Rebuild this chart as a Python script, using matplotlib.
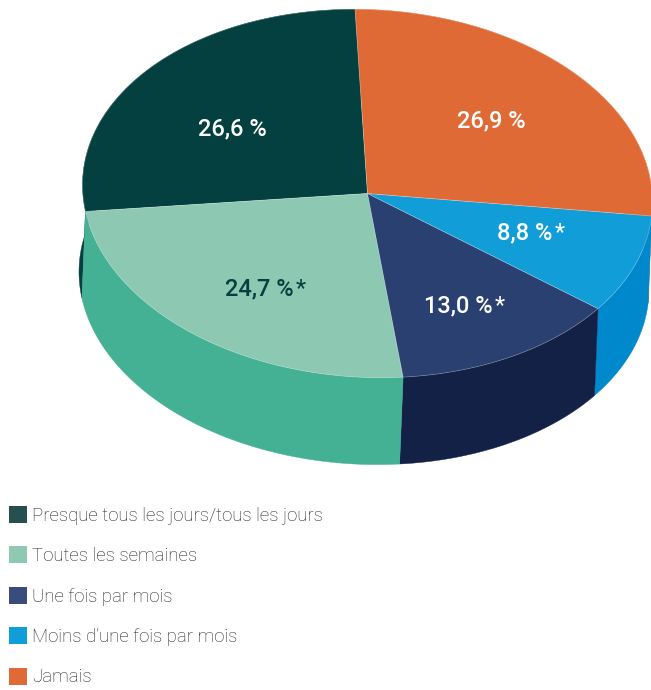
import numpy as np
import matplotlib
matplotlib.use("Agg")
import matplotlib.pyplot as plt
from matplotlib.patches import Patch
from matplotlib.transforms import Affine2D

categories = ["Presque tous les jours/tous les jours", "Toutes les semaines", "Une fois par mois",
              "Moins d\u2019une fois par mois", "Jamais"]
values = [26.6, 24.7, 13.0, 8.8, 26.9]
value_labels = ["26,6 %", "24,7 %", "13,0 %", "8,8 %", "26,9 %"]
has_star = [False, True, True, True, False]
top_colors = ["#04403f", "#8dc8b3", "#2a4070", "#119dd8", "#e06a35"]
side_colors = ["#04403f", "#44b094", "#142147", "#0088cc", "#e06a35"]
legend_colors = ["#264f4f", "#8fc8b3", "#3a4c7c", "#119dd8", "#e06a35"]
text_colors = ["white", "#04403f", "white", "white", "white"]

W, H = 651, 690
cx, cy, rx, ry = 367.5, 193.5, 285.0, 184.0
shift_x, shift_y = -3.5 / rx, -87.0 / ry
start = 92.5
tilt_k = 0.03  # the pie leans down to the right

fig = plt.figure(figsize=(W / 100, H / 100), dpi=100)
ax = fig.add_axes([0, 0, 1, 1])

# pie on a unit circle, the axes limits squash it to an ellipse
wedges, _ = ax.pie(values, startangle=start, counterclock=True, colors=top_colors,
                   wedgeprops=dict(edgecolor=(1, 1, 1, 0.3), linewidth=0.5, zorder=5))
ax.set_aspect("auto")
ax.set_xlim(-cx / rx, (W - cx) / rx)
ax.set_ylim((cy - H) / ry, cy / ry)
tilt = Affine2D.from_values(1, -tilt_k * rx / ry, 0, 1, 0, 0) + ax.transData
for w in wedges:
    w.set_transform(tilt)

# side walls, back ones first so the front ones cover them
order = [4, 0, 3, 2, 1]
for n, i in enumerate(order):
    w = wedges[i]
    t = np.radians(np.linspace(w.theta1, w.theta2, 100))
    xs = np.concatenate([np.cos(t), np.cos(t[::-1]) + shift_x])
    ys = np.concatenate([np.sin(t), np.sin(t[::-1]) + shift_y])
    ax.fill(xs, ys, color=side_colors[i], lw=0.3, zorder=2 + n * 0.1, transform=tilt)

# text goes on a second axes in pixels
ov = fig.add_axes([0, 0, 1, 1])
ov.set_xlim(0, W)
ov.set_ylim(H, 0)
ov.axis("off")
ov.patch.set_alpha(0)

label_x = [232, 259, 458, 525, 491]
label_y = [129, 289, 306, 233, 121]
for i in range(len(values)):
    txt = ov.text(label_x[i], label_y[i], value_labels[i], color=text_colors[i], fontsize=17,
                  family="Roboto", weight="medium", ha="center", va="center")
    if has_star[i]:
        ov.annotate("*", xy=(1, 1), xycoords=txt, xytext=(1.5, 0), textcoords="offset points",
                    color=text_colors[i], fontsize=17, family="Roboto", weight="normal",
                    ha="left", va="top")

handles = [Patch(facecolor=c, edgecolor="none") for c in legend_colors]
leg = ov.legend(handles, categories, loc="upper left", bbox_to_anchor=(9 / W, 1 - 506 / H),
                frameon=False, borderpad=0, borderaxespad=0, handlelength=0.98, handleheight=1.03,
                handletextpad=0.24, labelspacing=1.157, prop=dict(family="Roboto", weight="light", size=13.4))
for t in leg.get_texts():
    t.set_color("#222222")

fig.savefig("out.png", dpi=100)
